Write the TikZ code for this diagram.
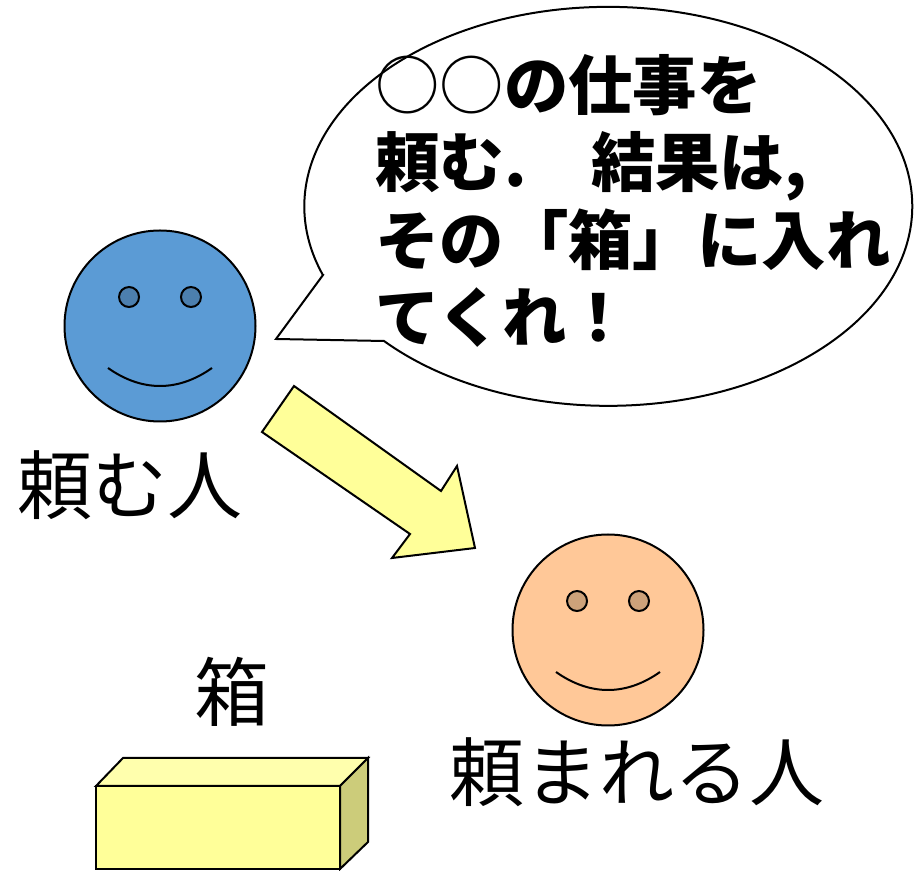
\documentclass[tikz,border=0pt]{standalone}
\usepackage{fontspec}
\usepackage{xcolor}
\usetikzlibrary{positioning}
\newfontfamily\jpfont{Noto Sans CJK JP}
\definecolor{askerblue}{HTML}{5B9BD5}
\definecolor{askereye}{HTML}{4C7FAE}
\definecolor{workerorange}{HTML}{FFC898}
\definecolor{workereye}{HTML}{CDA27A}
\definecolor{boxyellow}{HTML}{FFFF99}
\definecolor{boxtop}{HTML}{FFFFAD}
\definecolor{boxside}{HTML}{CCCC7A}
\tikzset{
  face/.style={circle,draw,line width=2pt,minimum size=191pt,inner sep=0pt},
  eye/.style={circle,draw,line width=2pt,minimum size=20pt,inner sep=0pt},
  biglabel/.style={inner sep=0pt,font=\jpfont\fontsize{75}{80}\selectfont},
  shapeline/.style={draw=black,line width=2pt,line join=miter},
}
\begin{document}
\begin{tikzpicture}[x=1pt,y=1pt,node distance=21.2pt and 23.2pt]
\useasboundingbox (0,0) rectangle (918,870);
% speech bubble
\draw[shapeline,fill=white] (323,595) -- (276,531) -- (384,529)
    arc[start angle=222.45,end angle=560.1,x radius=304,y radius=199.5] -- cycle;
\node[anchor=west,align=left,inner sep=0pt,font=\jpfont\bfseries\fontsize{64.4}{77.5}\selectfont] (request) at (375,669)
    {{\mdseries ○○}の仕事を\\頼む.　結果は,\\その「箱」に入れ\\てくれ！};
% person who asks
\node[face,fill=askerblue] (asker) at (160,544) {};
\node[eye,fill=askereye,above left = of asker.center] (askerL) {};
\node[eye,fill=askereye,above right = of asker.center] (askerR) {};
\coordinate (askerM1) at (108,502);
\coordinate (askerM2) at (212,502);
\draw[line width=2pt] (askerM1) .. controls (142,478) and (178,478) .. (askerM2);
\node[biglabel] (askerlabel) at (130,385) {頼む人};
% arrow
\draw[shapeline,fill=boxyellow] (294,484) -- (441,379) -- (457,404) -- (475,322)
    -- (392,312) -- (410,336) -- (262,438) -- cycle;
% person who is asked
\node[face,fill=workerorange] (worker) at (608,240) {};
\node[eye,fill=workereye,above left = of worker.center] (workerL) {};
\node[eye,fill=workereye,above right = of worker.center] (workerR) {};
\coordinate (workerM1) at (556,198);
\coordinate (workerM2) at (660,198);
\draw[line width=2pt] (workerM1) .. controls (590,174) and (626,174) .. (workerM2);
\node[biglabel] (workerlabel) at (637,98) {頼まれる人};
% box
\node[biglabel] (boxlabel) at (232,178) {箱};
\draw[shapeline,fill=boxtop] (96,84) -- (123,112) -- (368,112) -- (340,84) -- cycle;
\draw[shapeline,fill=boxside] (340,84) -- (368,112) -- (368,28) -- (340,1) -- cycle;
\draw[shapeline,fill=boxyellow] (96,1) rectangle (340,84);
\end{tikzpicture}
\end{document}
